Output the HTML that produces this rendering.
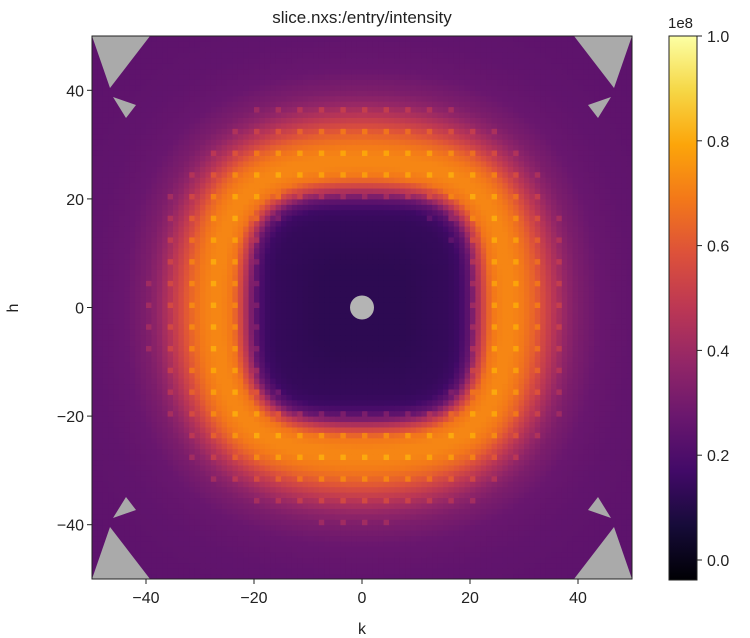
<!DOCTYPE html>
<html><head><meta charset="utf-8"><style>
body{margin:0;background:#fff;}
svg{display:block;font-family:"Liberation Sans","DejaVu Sans",sans-serif;}
</style></head><body>
<svg id="chart" width="750" height="638" viewBox="0 0 750 638">
<defs><linearGradient id="cbgrad" x1="0" y1="1" x2="0" y2="0">
<stop offset="0" stop-color="#000004"/><stop offset="0.1" stop-color="#160b39"/><stop offset="0.2" stop-color="#420a68"/><stop offset="0.3" stop-color="#6a176e"/><stop offset="0.4" stop-color="#932667"/><stop offset="0.5" stop-color="#bc3754"/><stop offset="0.6" stop-color="#dd513a"/><stop offset="0.7" stop-color="#f37819"/><stop offset="0.8" stop-color="#fca50a"/><stop offset="0.9" stop-color="#f6d746"/><stop offset="1" stop-color="#fcffa4"/></linearGradient>
<clipPath id="plotclip"><rect x="92" y="36" width="540" height="543"/></clipPath></defs>
<text x="362" y="23" text-anchor="middle" font-size="17" fill="#222">slice.nxs:/entry/intensity</text>
<g id="cells" clip-path="url(#plotclip)"></g>
<g id="masks" clip-path="url(#plotclip)"></g>
<rect x="92" y="36" width="540" height="543" fill="none" stroke="#222" stroke-width="1"/>
<g id="axes"></g>
<text x="362" y="634" text-anchor="middle" font-size="16" fill="#222">k</text>
<text x="18" y="308" text-anchor="middle" font-size="16" fill="#222" transform="rotate(-90 18 308)">h</text>
<rect x="669" y="36" width="28" height="544" fill="url(#cbgrad)" stroke="#222" stroke-width="1"/>
<text x="668" y="28" font-size="15" fill="#222">1e8</text>
<g id="cbticks"></g>
</svg>
<script>
// Radial intensity profile (units 1e8) vs. distance from origin in reciprocal-lattice units
const profileDist = [0, 4, 8, 12, 16, 18, 20, 22, 24, 26, 28, 30, 32, 34, 36, 38, 40, 44, 50, 60, 75];
const profileVals = [0.12, 0.12, 0.12, 0.13, 0.14, 0.16, 0.26, 0.5, 0.68, 0.72, 0.72, 0.69, 0.63, 0.54, 0.45, 0.37, 0.32, 0.27, 0.25, 0.24, 0.24];
const xTicks = [-40, -20, 0, 20, 40];
const yTicks = [-40, -20, 0, 20, 40];
const cbTicks = [0.0, 0.2, 0.4, 0.6, 0.8, 1.0];
const vmin = -0.038, vmax = 1.0;

const NS = "http://www.w3.org/2000/svg";
const xS = k => 92 + (k + 50) * 5.4;
const yS = h => 36 + (50 - h) * 5.43;
const cbS = v => 560 - v * 524;
const stops = ["#000004","#160b39","#420a68","#6a176e","#932667","#bc3754","#dd513a","#f37819","#fca50a","#f6d746","#fcffa4"].map(c=>[1,3,5].map(i=>parseInt(c.substr(i,2),16)));
function cmap(v){let t=Math.max(0,Math.min(1,(v-vmin)/(vmax-vmin)))*10;const i=Math.min(9,Math.floor(t));const f=t-i;const a=stops[i],b=stops[i+1];return "rgb("+a.map((x,j)=>Math.round(x+(b[j]-x)*f)).join(",")+")";}
function prof(d){for(let i=1;i<profileDist.length;i++){if(d<=profileDist[i]){const f=(d-profileDist[i-1])/(profileDist[i]-profileDist[i-1]);return profileVals[i-1]+(profileVals[i]-profileVals[i-1])*f;}}return profileVals[profileVals.length-1];}
function mk(tag,attrs,parent){const e=document.createElementNS(NS,tag);for(const k in attrs)e.setAttribute(k,attrs[k]);parent.appendChild(e);return e;}

const cells=document.getElementById("cells");
const step=1;
for(let h=-50;h<50;h+=step){for(let k=-50;k<50;k+=step){
  const kc=k+step/2,hc=h+step/2;
  const p=3.6;
  const sq=Math.pow(Math.pow(Math.abs(kc),p)+Math.pow(Math.abs(hc),p),1/p);
  const ci=Math.hypot(kc,hc);
  const w=Math.max(0,Math.min(1,(sq-18)/14));
  const d=sq*(1-w*0.6)+ci*(w*0.6);
  let v=prof(d);
  if(k%4===0&&h%4===0&&d>18&&d<40)v+=0.08;
  const r=mk("rect",{x:xS(k).toFixed(2),y:yS(h+step).toFixed(2),width:(5.4*step+0.5).toFixed(2),height:(5.43*step+0.5).toFixed(2),fill:cmap(v)},cells);
  
  
}}

const masks=document.getElementById("masks");
const gray="#aaaaaa";
const tri1=[[92,36],[150,36],[110,88]], tri2=[[113,97],[136,105],[126,118]];
[[1,1],[-1,1],[1,-1],[-1,-1]].forEach(([sx,sy])=>{
  [tri1,tri2].forEach(t=>{
    const pts=t.map(([x,y])=>[sx>0?x:724-x, sy>0?y:615-y].join(",")).join(" ");
    const g=mk("polygon",{points:pts,fill:gray},masks);
    
    
  });
});
const beam=mk("circle",{cx:xS(0),cy:yS(0),r:12,fill:"#b4b4b4"},masks);



const axes=document.getElementById("axes");
xTicks.forEach(t=>{
  const l=mk("line",{x1:xS(t),x2:xS(t),y1:579,y2:584,stroke:"#222"},axes);
  
  
  const tx=mk("text",{x:xS(t),y:603,"text-anchor":"middle","font-size":"16",fill:"#222"},axes);
  tx.textContent=(t<0?"\u2212"+(-t):t);
  
  
});
yTicks.forEach(t=>{
  const l=mk("line",{x1:87,x2:92,y1:yS(t),y2:yS(t),stroke:"#222"},axes);
  
  
  const tx=mk("text",{x:84,y:yS(t)+6,"text-anchor":"end","font-size":"16",fill:"#222"},axes);
  tx.textContent=(t<0?"\u2212"+(-t):t);
  
  
});
const cbt=document.getElementById("cbticks");
cbTicks.forEach(t=>{
  const l=mk("line",{x1:697,x2:702,y1:cbS(t),y2:cbS(t),stroke:"#222"},cbt);
  
  
  const tx=mk("text",{x:707,y:cbS(t)+6,"font-size":"16",fill:"#222"},cbt);
  tx.textContent=t.toFixed(1);
  
  
});
</script>
</body></html>
